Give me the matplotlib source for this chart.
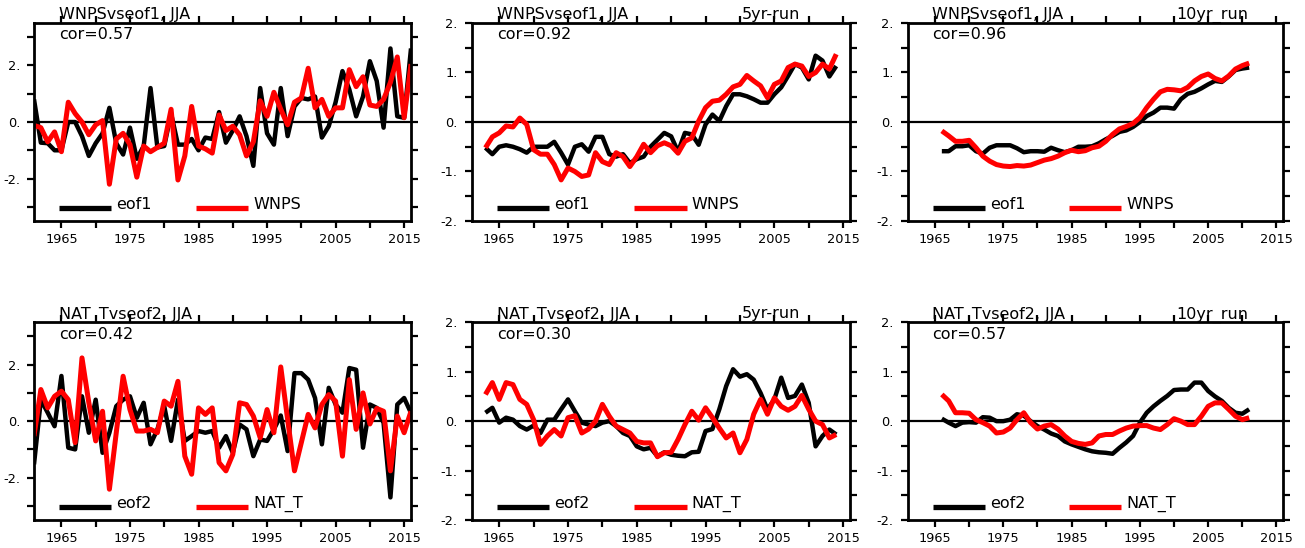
import numpy as np
import matplotlib
matplotlib.use("Agg")
import matplotlib.pyplot as plt
from matplotlib.ticker import FixedLocator, FuncFormatter

plt.rcParams['font.family'] = ['DejaVu Sans']

# ---------------- data ----------------
years_raw = list(range(1961, 2017))
years_5yr = list(range(1963, 2015))
years_10yr = list(range(1966, 2012))

eof1_raw = [0.8, -0.73, -0.75, -1.0, -1.0, 0.0, 0.0, -0.5, -1.2, -0.75,
            -0.4, 0.5, -0.75, -1.15, -0.2, -1.3, -0.85, 1.2, -0.9, -0.85,
            0.3, -0.8, -0.8, -0.6, -1.0, -0.55, -0.6, 0.35, -0.73, -0.3,
            0.2, -0.5, -1.55, 1.2, -0.4, -0.8, 1.2, -0.5, 0.55, 0.85,
            0.8, 0.9, -0.55, -0.15, 0.7, 1.8, 1.15, 0.2, 0.9, 2.15,
            1.45, -0.2, 2.6, 0.2, 0.15, 2.6]
wnps_raw = [-0.12, -0.2, -0.7, -0.35, -1.05, 0.7, 0.3, 0.0, -0.45, -0.1,
            0.05, -2.2, -0.6, -0.4, -0.8, -1.95, -0.85, -1.05, -0.9, -0.75,
            0.45, -2.05, -1.2, 0.55, -0.85, -0.95, -1.1, 0.25, -0.3, -0.15,
            -0.45, -1.2, -0.7, 0.75, 0.2, 1.05, 0.45, -0.1, 0.7, 0.85,
            1.9, 0.5, 0.8, 0.2, 0.5, 0.5, 1.85, 1.25, 1.6, 0.6,
            0.55, 0.8, 1.4, 2.3, 0.15, 2.05]

eof1_5yr = [-0.52, -0.65, -0.5, -0.47, -0.5, -0.55, -0.62, -0.5, -0.5, -0.5,
            -0.4, -0.62, -0.86, -0.5, -0.45, -0.6, -0.3, -0.3, -0.65, -0.7,
            -0.65, -0.83, -0.75, -0.7, -0.5, -0.36, -0.22, -0.29, -0.6, -0.22,
            -0.25, -0.46, -0.05, 0.15, 0.02, 0.32, 0.56, 0.56, 0.52, 0.46,
            0.39, 0.39, 0.56, 0.7, 0.93, 1.17, 1.1, 0.86, 1.34, 1.24,
            0.92, 1.13]
wnps_5yr = [-0.52, -0.3, -0.22, -0.08, -0.1, 0.08, -0.05, -0.56, -0.65, -0.65,
            -0.86, -1.17, -0.93, -1.0, -1.1, -1.07, -0.62, -0.8, -0.86, -0.62,
            -0.7, -0.9, -0.7, -0.45, -0.62, -0.48, -0.42, -0.48, -0.63, -0.39,
            -0.32, 0.02, 0.29, 0.42, 0.44, 0.56, 0.71, 0.76, 0.94, 0.83,
            0.73, 0.49, 0.76, 0.83, 1.1, 1.17, 1.13, 0.92, 1.0, 1.17,
            1.07, 1.37]

eof1_10yr = [-0.59, -0.59, -0.49, -0.49, -0.47, -0.59, -0.64, -0.52, -0.47, -0.47,
             -0.47, -0.53, -0.61, -0.59, -0.59, -0.6, -0.52, -0.57, -0.61, -0.57,
             -0.5, -0.5, -0.49, -0.43, -0.35, -0.28, -0.2, -0.17, -0.1, 0.0,
             0.12, 0.19, 0.29, 0.29, 0.27, 0.46, 0.57, 0.61, 0.68, 0.76,
             0.83, 0.81, 0.92, 1.05, 1.08, 1.1]
wnps_10yr = [-0.18, -0.28, -0.39, -0.39, -0.37, -0.52, -0.69, -0.79, -0.86, -0.89,
             -0.9, -0.88, -0.89, -0.87, -0.82, -0.77, -0.74, -0.69, -0.62, -0.57,
             -0.6, -0.58, -0.52, -0.49, -0.39, -0.25, -0.14, -0.09, -0.03, 0.09,
             0.29, 0.46, 0.61, 0.66, 0.65, 0.63, 0.7, 0.83, 0.92, 0.97,
             0.88, 0.83, 0.93, 1.07, 1.14, 1.19]

eof2_raw = [-1.53, 0.76, 0.3, -0.18, 1.6, -0.94, -1.0, 0.88, -0.41, 0.76,
            -1.12, -0.41, 0.53, 0.76, 0.88, 0.12, 0.65, -0.82, -0.29, 0.53,
            -0.7, 0.76, -0.7, -0.53, -0.35, -0.41, -0.35, -0.94, -0.53, -1.12,
            -0.12, -0.29, -1.24, -0.65, -0.7, -0.29, 0.2, -1.06, 1.7, 1.7,
            1.47, 0.82, -0.82, 1.18, 0.59, 0.3, 1.88, 1.82, -0.94, 0.59,
            0.47, -0.06, -2.7, 0.59, 0.82, 0.29]
natt_raw = [-0.53, 1.12, 0.47, 0.88, 1.06, 0.76, -0.76, 2.24, 0.65, -0.7,
            0.35, -2.41, -0.41, 1.59, 0.41, -0.35, -0.35, -0.29, -0.41, 0.71,
            0.53, 1.41, -1.24, -1.88, 0.47, 0.24, 0.47, -1.47, -1.76, -1.18,
            0.65, 0.59, 0.18, -0.59, 0.41, -0.41, 1.92, 0.06, -1.76, -0.76,
            0.24, -0.24, 0.59, 0.94, 0.71, -1.24, 1.47, -0.29, 1.0, -0.1,
            0.45, 0.35, -1.76, 0.18, -0.41, 0.35]

eof2_5yr = [0.17, 0.27, -0.03, 0.07, 0.03, -0.1, -0.17, -0.09, -0.24, 0.03,
            0.03, 0.24, 0.44, 0.2, -0.03, -0.07, -0.1, -0.03, 0.0, -0.1,
            -0.24, -0.3, -0.51, -0.57, -0.54, -0.71, -0.63, -0.68, -0.7, -0.71,
            -0.63, -0.62, -0.2, -0.16, 0.24, 0.71, 1.05, 0.9, 0.95, 0.84,
            0.57, 0.24, 0.44, 0.88, 0.47, 0.51, 0.74, 0.37, -0.51, -0.3,
            -0.17, -0.27]
natt_5yr = [0.54, 0.78, 0.44, 0.78, 0.74, 0.44, 0.34, 0.03, -0.47, -0.3,
            -0.17, -0.3, 0.07, 0.11, -0.24, -0.16, 0.0, 0.34, 0.1, -0.1,
            -0.17, -0.24, -0.41, -0.44, -0.44, -0.72, -0.64, -0.63, -0.37, -0.07,
            0.2, 0.02, 0.27, 0.07, -0.14, -0.34, -0.24, -0.64, -0.37, 0.14,
            0.44, 0.14, 0.47, 0.3, 0.22, 0.3, 0.52, 0.24, 0.0, -0.07,
            -0.34, -0.27]

eof2_10yr = [0.05, -0.03, -0.1, -0.03, -0.02, -0.03, 0.08, 0.07, 0.0, 0.0,
             0.03, 0.14, 0.11, 0.0, -0.1, -0.17, -0.25, -0.3, -0.41, -0.47,
             -0.52, -0.57, -0.61, -0.63, -0.64, -0.66, -0.54, -0.43, -0.3, -0.03,
             0.17, 0.3, 0.41, 0.51, 0.63, 0.64, 0.64, 0.78, 0.78, 0.61,
             0.5, 0.41, 0.27, 0.17, 0.15, 0.24]
natt_10yr = [0.54, 0.41, 0.17, 0.17, 0.16, 0.03, -0.03, -0.1, -0.24, -0.22,
             -0.14, 0.03, 0.17, -0.03, -0.16, -0.1, -0.07, -0.16, -0.3, -0.41,
             -0.45, -0.47, -0.44, -0.3, -0.27, -0.27, -0.2, -0.14, -0.1, -0.09,
             -0.09, -0.14, -0.17, -0.07, 0.05, 0.0, -0.07, -0.07, 0.1, 0.3,
             0.37, 0.37, 0.24, 0.1, 0.03, 0.07]

row_titles = ["WNPSvseof1, JJA", "NAT_Tvseof2, JJA"]
right_titles = ["", "5yr-run", "10yr_run"]
cors = [["cor=0.57", "cor=0.92", "cor=0.96"],
        ["cor=0.42", "cor=0.30", "cor=0.57"]]
eof_names = ["eof1", "eof2"]
idx_names = ["WNPS", "NAT_T"]
xticks_major = [1965, 1975, 1985, 1995, 2005, 2015]
xticks_minor = [1970, 1980, 1990, 2000, 2010]

series = [
    [(years_raw, eof1_raw, wnps_raw), (years_5yr, eof1_5yr, wnps_5yr), (years_10yr, eof1_10yr, wnps_10yr)],
    [(years_raw, eof2_raw, natt_raw), (years_5yr, eof2_5yr, natt_5yr), (years_10yr, eof2_10yr, natt_10yr)],
]

# ---------------- figure ----------------
W, H = 1305, 548
fig = plt.figure(figsize=(W / 100, H / 100), dpi=100)

lefts = [34, 471.7, 907.7]
widths = [377, 378.3, 375.6]
tops = [23, 322.3]
heights = [198, 197.7]

RED = '#ff0000'
fmt = FuncFormatter(lambda v, p: f"{v:.0f}.")

for r in range(2):
    for c in range(3):
        x0 = lefts[c] / W
        y0 = 1 - (tops[r] + heights[r]) / H
        ax = fig.add_axes([x0, y0, widths[c] / W, heights[r] / H])
        yrs, blk, red = series[r][c]
        ax.plot(yrs, blk, color='black', lw=3.2, solid_joinstyle='round', solid_capstyle='butt', zorder=3)
        ax.plot(yrs, red, color=RED, lw=3.6, solid_joinstyle='round', solid_capstyle='butt', zorder=4)
        ax.axhline(0, color='black', lw=1.6, zorder=2)
        ax.set_xlim(1961, 2016)
        if c == 0:
            ax.set_ylim(-3.5, 3.5)
            ax.yaxis.set_major_locator(FixedLocator([-2, 0, 2]))
            ax.yaxis.set_minor_locator(FixedLocator([-3, -1, 1, 3]))
        else:
            ax.set_ylim(-2, 2)
            ax.yaxis.set_major_locator(FixedLocator([-2, -1, 0, 1, 2]))
            ax.yaxis.set_minor_locator(FixedLocator([-1.5, -0.5, 0.5, 1.5]))
        ax.yaxis.set_major_formatter(fmt)
        ax.xaxis.set_major_locator(FixedLocator(xticks_major))
        ax.xaxis.set_minor_locator(FixedLocator(xticks_minor))
        ax.tick_params(which='both', direction='out', length=5, width=1.6,
                       top=True, right=True, labelsize=9.3, color='black')
        ax.tick_params(axis='x', which='major', pad=4)
        ax.tick_params(axis='y', which='major', pad=5)
        for s in ax.spines.values():
            s.set_linewidth(2.0)
            s.set_zorder(5)

        # titles
        ax.text(0.066, 1.02, row_titles[r], transform=ax.transAxes, fontsize=11.5,
                ha='left', va='baseline', zorder=1)
        if right_titles[c]:
            ax.text(0.715, 1.02, right_titles[c], transform=ax.transAxes, fontsize=11.5,
                    ha='left', va='baseline', zorder=1)
        ax.text(0.066, 0.918, cors[r][c], transform=ax.transAxes, fontsize=11.5,
                ha='left', va='baseline', zorder=6)

        # legend
        ax.plot([0.067, 0.205], [0.066, 0.066], transform=ax.transAxes, color='black',
                lw=3.8, solid_capstyle='butt', zorder=6)
        ax.text(0.219, 0.06, eof_names[r], transform=ax.transAxes, fontsize=11.5,
                ha='left', va='baseline', zorder=6)
        ax.plot([0.43, 0.568], [0.066, 0.066], transform=ax.transAxes, color=RED,
                lw=3.8, solid_capstyle='butt', zorder=6)
        ax.text(0.582, 0.06, idx_names[r], transform=ax.transAxes, fontsize=11.5,
                ha='left', va='baseline', zorder=6)

fig.savefig("out.png", dpi=100)
